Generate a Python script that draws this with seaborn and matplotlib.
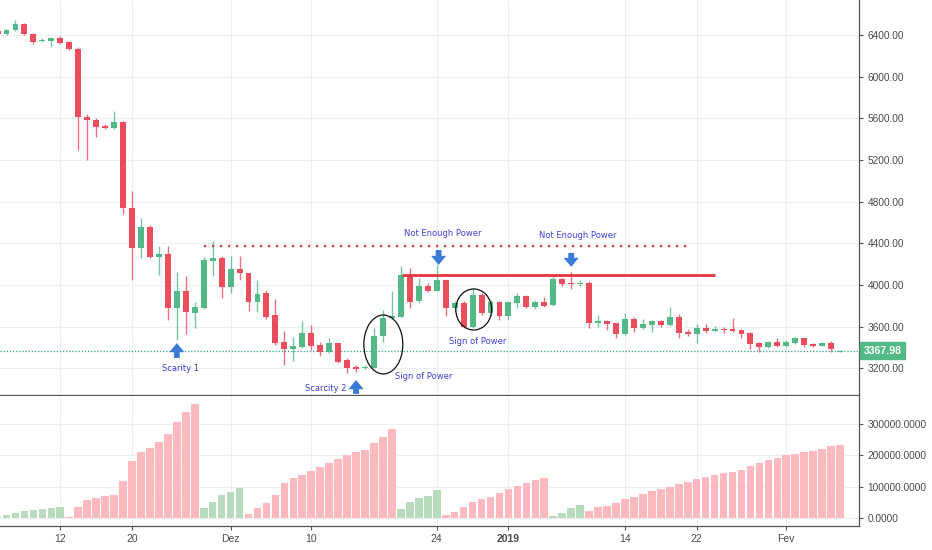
import numpy as np
import pandas as pd
import matplotlib
matplotlib.use("Agg")
import matplotlib.pyplot as plt
from matplotlib.patches import Ellipse
import seaborn as sns

# ---------------- data ----------------
start_date = "2018-11-05"
opens = [6440, 6410, 6445, 6506, 6413, 6339, 6346, 6368, 6330, 6266, 5616, 5584, 5526, 5510, 5568, 4742,
         4352, 4560, 4269, 4294, 3782, 3942, 3731, 3782, 4234, 4256,
         3984, 4157, 4112, 3840, 3920, 3712, 3450, 3382, 3408, 3542, 3424, 3360, 3440, 3280, 3210, 3200,
         3206, 3510, 3680, 3696, 4096, 3846, 3990, 3946, 4048, 3782, 3830, 3600, 3904, 3734, 3840,
         3702, 3830, 3894, 3792, 3834, 3808, 4054, 4022, 4006, 4019, 3638, 3654, 3632, 3526, 3677, 3590,
         3616, 3654, 3616, 3696, 3552, 3533, 3587, 3562, 3578, 3578, 3568, 3542, 3446, 3405, 3453,
         3414, 3443, 3488, 3434, 3418, 3440, 3360]
highs = [6450, 6462, 6547, 6512, 6418, 6374, 6378, 6387, 6340, 6288, 5645, 5600, 5542, 5670, 5575, 4906,
         4646, 4576, 4378, 4378, 4122, 4090, 3840, 4272, 4422, 4275,
         4282, 4278, 4120, 4048, 3952, 3866, 3558, 3504, 3654, 3616, 3450, 3494, 3448, 3300, 3232, 3232,
         3590, 3760, 3940, 4182, 4166, 4064, 4016, 4192, 4060, 3850, 3850, 3968, 3920, 3860, 3850,
         3845, 3926, 3900, 3856, 3888, 4096, 4070, 4128, 4045, 4040, 3712, 3660, 3640, 3728, 3696, 3674,
         3665, 3660, 3792, 3722, 3574, 3626, 3626, 3606, 3600, 3680, 3575, 3548, 3452, 3466, 3488,
         3470, 3504, 3492, 3440, 3450, 3462, 3376]
lows = [6405, 6400, 6438, 6400, 6317, 6335, 6282, 6318, 6255, 5296, 5200, 5424, 5500, 5500, 4682, 4048,
        4256, 4260, 4096, 3664, 3472, 3526, 3584, 3770, 4090, 3878,
        3920, 4048, 3750, 3744, 3674, 3420, 3232, 3270, 3400, 3376, 3322, 3350, 3248, 3152, 3168, 3190,
        3200, 3456, 3670, 3690, 3776, 3824, 3930, 3940, 3706, 3740, 3590, 3590, 3710, 3700, 3664,
        3677, 3776, 3776, 3770, 3790, 3800, 3990, 3962, 3990, 3590, 3594, 3568, 3494, 3520, 3552, 3580,
        3552, 3600, 3605, 3494, 3514, 3446, 3536, 3550, 3540, 3550, 3488, 3382, 3360, 3398, 3405,
        3405, 3436, 3402, 3405, 3410, 3360, 3356]
closes = [6412, 6451, 6502, 6410, 6336, 6355, 6368, 6326, 6262, 5610, 5584, 5520, 5510, 5568, 4742, 4352,
          4560, 4266, 4294, 3782, 3942, 3738, 3789, 4240, 4259, 3984,
          4157, 4112, 3840, 3917, 3696, 3440, 3386, 3414, 3542, 3418, 3360, 3440, 3264, 3206, 3194, 3210,
          3510, 3680, 3700, 4096, 3840, 3990, 3946, 4048, 3782, 3830, 3600, 3904, 3734, 3840, 3702,
          3834, 3894, 3792, 3834, 3802, 4054, 4010, 4006, 4019, 3632, 3654, 3629, 3526, 3677, 3590, 3622,
          3654, 3616, 3696, 3542, 3533, 3587, 3562, 3578, 3568, 3558, 3530, 3434, 3405, 3453, 3414,
          3453, 3488, 3424, 3414, 3440, 3382, 3367.98]
wave_volume = [3000, 8600, 15000, 21000, 25000, 28000, 32000, 33000, 2000, 33000, 57000, 64000, 71000, 74000,
               118000, 182000, 212000, 224000, 243000, 268000, 306000, 341000, 366000, 30000, 52000, 73000,
               84000, 96000, 12000, 31000, 46000, 73000, 110000, 126000, 137000, 150000, 162000, 175000,
               187000, 201000, 212000, 217000, 239000, 258000, 285000, 27000, 49000, 62000, 71000, 89000,
               10000, 17000, 33000, 50000, 59000, 67000, 80000,
               92000, 101000, 110000, 121000, 126000, 5000, 15000, 31000, 41000, 21000, 34000, 37000, 46000,
               59000, 67000, 76000, 86000, 92000, 99000, 107000, 115000, 123000, 130000, 136000, 144000,
               148000, 154000, 165000, 177000, 185000, 192000,
               200000, 205000, 210000, 215000, 222000, 230000, 235000]
wave_dir = (["up"] * 8 + ["down"] * 15 + ["up"] * 5 + ["down"] * 17 + ["up"] * 5 +
            ["down"] * 12 + ["up"] * 4 + ["down"] * 29)

price_ticks = [3200, 3600, 4000, 4400, 4800, 5200, 5600, 6000, 6400]
volume_ticks = [0, 100000, 200000, 300000]
date_ticks = ["2018-11-12", "2018-11-20", "2018-12-01", "2018-12-10", "2018-12-24",
              "2019-01-01", "2019-01-14", "2019-01-22", "2019-02-01"]
date_labels = ["12", "20", "Dez", "10", "24", "2019", "14", "22", "Fev"]

# annotations: (text, date, price)
notes = [("Scarity 1", "2018-11-25 10:00", 3194),
         ("Scarcity 2", "2018-12-11 14:00", 3008),
         ("Sign of Power", "2018-12-22 14:00", 3126),
         ("Sign of Power", "2018-12-28 13:00", 3453),
         ("Not Enough Power", "2018-12-24 17:00", 4494),
         ("Not Enough Power", "2019-01-08 17:00", 4473)]
arrows_up = [("2018-11-25", 3443, 3299), ("2018-12-15", 3088, 2954)]
arrows_down = [("2018-12-24 05:00", 4192, 4336), ("2019-01-08", 4173, 4307)]
ellipses = [("2018-12-18 01:00", 3429, 4.35, 566), ("2018-12-28 03:00", 3765, 4.0, 394)]
dotted_level = (4375, "2018-11-28", "2019-01-21")
solid_level = (4093, "2018-12-20 02:00", "2019-01-24 01:00")

# ---------------- build ----------------
ref = pd.Timestamp("2018-11-12")
dates = pd.date_range(start_date, periods=len(opens), freq="D")
day = np.asarray((dates - ref).days, dtype=float)


def dnum(s):
    return (pd.Timestamp(s) - ref) / pd.Timedelta(days=1)


df = pd.DataFrame({"day": day, "open": opens, "high": highs, "low": lows,
                   "close": closes, "vol": wave_volume, "wave": wave_dir})

UP, DOWN = "#53b987", "#eb4d5c"
VUP, VDOWN = "#b7dbbc", "#fdb9bd"
GRID = "#eceef3"
TXT = "#4a4a4a"
NOTE = "#3f3fd8"
ARROW = "#3a7bd5"

sns.set_theme(style="white")
plt.rcParams["font.family"] = ["DejaVu Sans"]

fig = plt.figure(figsize=(9.32, 5.5), dpi=100)
axw = 859 / 932
ax = fig.add_axes([0, 1 - 395 / 550, axw, 395 / 550])
axv = fig.add_axes([0, 1 - 526 / 550, axw, 130 / 550])

xlim = (-60.3 / 8.963, (859 - 60.3) / 8.963)

# candles
is_up = df["close"] >= df["open"]
cols = np.where(is_up, UP, DOWN)
ax.vlines(df["day"], df["low"], df["high"], colors=cols, linewidth=1.0, alpha=0.8, zorder=3)
body_low = np.minimum(df["open"], df["close"])
body_h = np.maximum(np.abs(df["close"] - df["open"]), 8)
ax.bar(df["day"], body_h, bottom=body_low, width=0.66, color=cols, linewidth=0, zorder=4)

ax.set_xlim(*xlim)
ax.set_ylim(2944, 6736)
ax.yaxis.tick_right()
ax.set_yticks(price_ticks)
ax.set_yticklabels([f"{v:.2f}" for v in price_ticks], fontsize=7.3, color=TXT,
                   family="Liberation Sans")
ax.tick_params(axis="y", direction="out", length=3, width=0.8, color="#50535e", pad=3, right=True)
ax.set_xticks([dnum(d) for d in date_ticks])
ax.tick_params(axis="x", length=0, labelbottom=False)
ax.grid(True, color=GRID, linewidth=0.8)
ax.set_axisbelow(True)
for s in ["top", "left"]:
    ax.spines[s].set_visible(False)
ax.spines["right"].set_color("#50535e")
ax.spines["bottom"].set_color("#50535e")
ax.spines["right"].set_linewidth(0.9)
ax.spines["bottom"].set_linewidth(0.9)

# last price line and label
last = closes[-1]
ax.axhline(last, color="#2f9f80", linestyle=(0, (1, 1.5)), linewidth=0.9, zorder=2)
ax.annotate(f"{last:.2f}", xy=(1.0, last), xycoords=("axes fraction", "data"),
            xytext=(3.5, 0), textcoords="offset points", ha="left", va="center",
            fontsize=7.6, color="white", family="Liberation Sans", weight="bold",
            bbox=dict(boxstyle="square,pad=0.32", fc=UP, ec=UP), annotation_clip=False)

# levels
ax.hlines(dotted_level[0], dnum(dotted_level[1]), dnum(dotted_level[2]), colors="#e53935",
          linestyles=(0, (1, 2.6)), linewidth=1.6, zorder=5)
ax.hlines(solid_level[0], dnum(solid_level[1]), dnum(solid_level[2]), colors="#e8343f",
          linewidth=2.0, zorder=5)

# ellipses
for d, p, w, h in ellipses:
    ax.add_patch(Ellipse((dnum(d), p), w, h, fill=False, ec="#111111", lw=0.9, zorder=6))

# arrows
astyle = dict(arrowstyle="simple,head_length=0.55,head_width=0.9,tail_width=0.35",
              color=ARROW, lw=0, shrinkA=0, shrinkB=0)
for d, tip, tail in arrows_up + arrows_down:
    ax.annotate("", xy=(dnum(d), tip), xytext=(dnum(d), tail), arrowprops=astyle,
                annotation_clip=False, zorder=7)

# notes
for t, d, p in notes:
    ax.text(dnum(d), p, t, ha="center", va="center", fontsize=6, color=NOTE, zorder=7)

# volume (weis wave)
sns.barplot(data=df, x="day", y="vol", hue="wave", palette={"up": VUP, "down": VDOWN},
            native_scale=True, dodge=False, width=0.85, legend=False, saturation=1,
            linewidth=0, ax=axv, zorder=3)
axv.set_xlim(*xlim)
axv.set_ylim(-26700, 390900)
axv.set_xlabel("")
axv.set_ylabel("")
axv.yaxis.tick_right()
axv.set_yticks(volume_ticks)
axv.set_yticklabels([f"{v:.4f}" for v in volume_ticks], fontsize=7.3, color=TXT,
                    family="Liberation Sans")
axv.tick_params(axis="y", direction="out", length=3, width=0.8, color="#50535e", pad=3, right=True)
axv.set_xticks([dnum(d) for d in date_ticks])
axv.set_xticklabels(date_labels, fontsize=7.5, color=TXT, family="Liberation Sans")
for lbl in axv.get_xticklabels():
    if lbl.get_text() == "2019":
        lbl.set_fontweight("bold")
axv.tick_params(axis="x", direction="out", length=3, width=0.8, color="#50535e", pad=3, bottom=True)
axv.grid(True, color=GRID, linewidth=0.8)
axv.set_axisbelow(True)
for s in ["top", "left"]:
    axv.spines[s].set_visible(False)
for s in ["right", "bottom"]:
    axv.spines[s].set_color("#50535e")
    axv.spines[s].set_linewidth(0.9)

fig.savefig("out.png", dpi=100)
